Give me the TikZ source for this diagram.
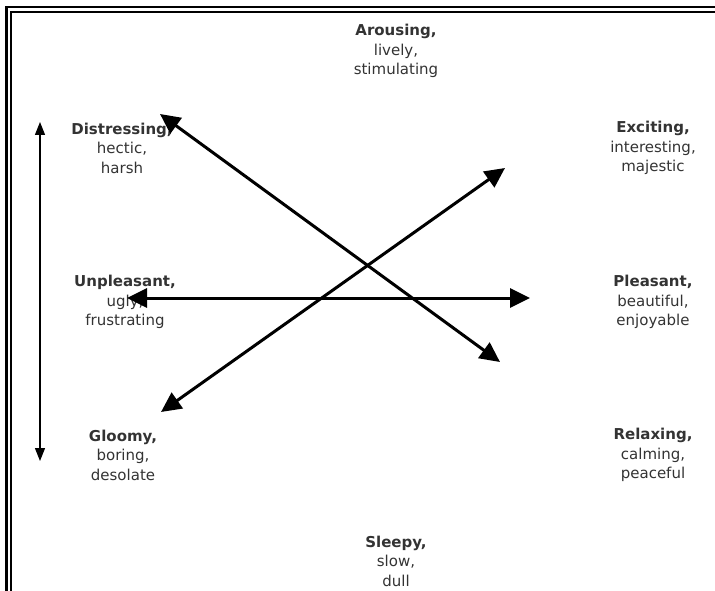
\documentclass[tikz,border=0pt]{standalone}
\usepackage{fontspec}
\setmainfont{DejaVu Sans}
\usetikzlibrary{positioning,arrows.meta}

\begin{document}
\begin{tikzpicture}[x=1pt, y=-1pt,
    mood/.style={align=center, inner sep=0pt, text=black!80, font=\fontsize{15}{19.5}\selectfont},
    feel/.style={line width=3pt, {Triangle[length=20pt,width=19pt]}-{Triangle[length=20pt,width=19pt]}},
    scalebar/.style={line width=1.2pt, {Triangle[length=13pt,width=10pt]}-{Triangle[length=13pt,width=10pt]}}
]
    \useasboundingbox (0,0) rectangle (715,591);
    \clip (0,0) rectangle (715,591);

    % Double frame
    \draw [line width=2.6pt] (6.2,7) rectangle (760,640);
    \draw [line width=2pt] (11.2,12.2) rectangle (755,635);

    % Mood labels
    \node [mood] (arousing) at (396,51) {\textbf{Arousing,}\\lively,\\stimulating};
    \node [mood] (distressing) at (122,148) {\textbf{Distressing,}\\hectic,\\harsh};
    \node [mood] (exciting) at (653,148) {\textbf{Exciting,}\\interesting,\\majestic};
    \node [mood] (unpleasant) at (125,302) {\textbf{Unpleasant,}\\ugly,\\frustrating};
    \node [mood] (pleasant) at (653,302) {\textbf{Pleasant,}\\beautiful,\\enjoyable};
    \node [mood] (gloomy) at (123,455) {\textbf{Gloomy,}\\boring,\\desolate};
    \node [mood] (relaxing) at (653,455) {\textbf{Relaxing,}\\calming,\\peaceful};
    \node [mood] (sleepy) at (396,561) {\textbf{Sleepy,}\\slow,\\dull};

    % Arrow ends
    \coordinate (dis end) at (160,114);
    \coordinate (rel end) at (500,362);
    \coordinate (exc end) at (505,168);
    \coordinate (glo end) at (161,412);
    \coordinate (unp end) at (127,298);
    \coordinate (ple end) at (530,298);
    \coordinate (top end) at (40,122);
    \coordinate (bot end) at (40,461);

    \draw [feel] (dis end) -- (rel end);
    \draw [feel] (glo end) -- (exc end);
    \draw [feel] (unp end) -- (ple end);
    \draw [scalebar] (top end) -- (bot end);
\end{tikzpicture}
\end{document}
